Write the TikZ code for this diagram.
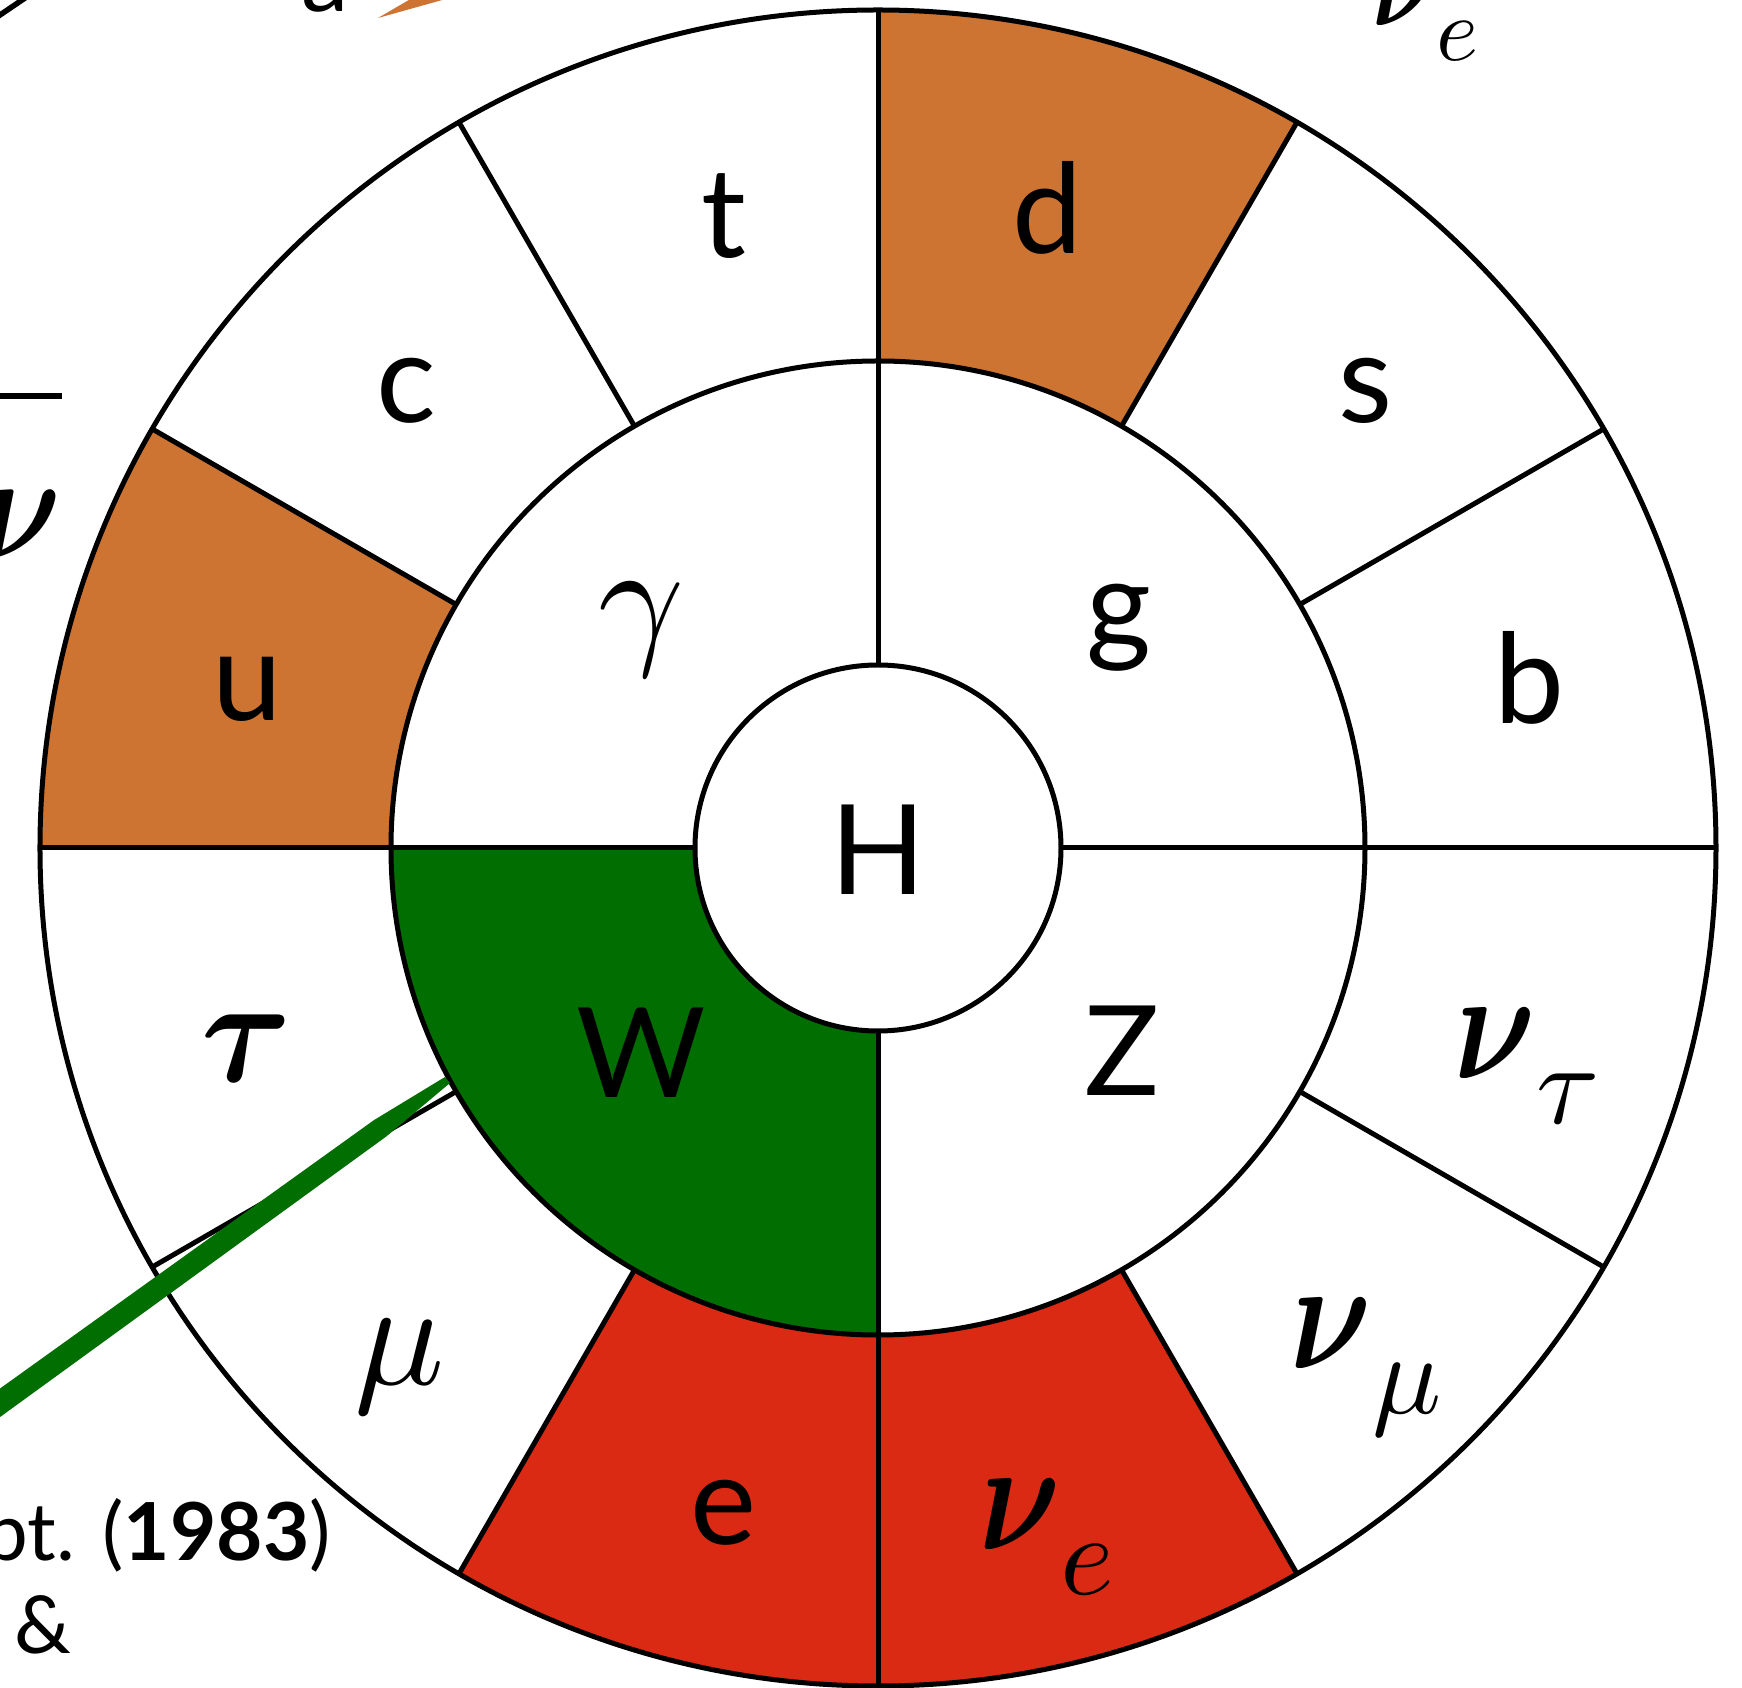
\documentclass[tikz,border=0pt]{standalone}
\usepackage{graphicx}
\usepackage{fontspec}
\setmainfont{Lato}
\DeclareFontShape{OML}{cmm}{m}{it}{<->cmmi10}{\skewchar\font'177}
\DeclareFontShape{OML}{cmm}{b}{it}{<->cmmib10}{\skewchar\font'60}
\DeclareSymbolFont{boldletters}{OML}{cmm}{b}{it}
\DeclareMathSymbol{\bnuchar}{\mathord}{boldletters}{"17}
\DeclareMathSymbol{\btauchar}{\mathord}{boldletters}{"1C}
\definecolor{ochre}{RGB}{205,116,51}
\definecolor{lepred}{RGB}{218,42,19}
\definecolor{bosgreen}{RGB}{0,110,0}
\newcommand{\gsz}{\fontsize{150}{180}\selectfont}
\newcommand{\ssz}{\fontsize{115}{120}\selectfont}
\newcommand{\nux}{\scalebox{0.84}[1.05]{$\bnuchar$}}
\begin{document}
\begin{tikzpicture}[x=1pt,y=1pt,
  ring/.style={line width=5pt},
  lab/.style={inner sep=0pt,font=\fontsize{125}{150}\selectfont},
  glab/.style={inner sep=0pt,font=\gsz},
  small/.style={inner sep=0pt,font=\fontsize{80}{96}\selectfont},
]
\useasboundingbox (-878,848) rectangle (864,-840);
\clip (-878,848) rectangle (864,-840);
\fill[white] (-878,848) rectangle (864,-840);
% coloured sectors
\fill[ochre] (60:487) -- (60:838) arc[start angle=60,end angle=90,radius=838] -- (90:487) arc[start angle=90,end angle=60,radius=487] -- cycle;
\fill[ochre] (150:487) -- (150:838) arc[start angle=150,end angle=180,radius=838] -- (180:487) arc[start angle=180,end angle=150,radius=487] -- cycle;
\fill[lepred] (240:487) -- (240:838) arc[start angle=240,end angle=300,radius=838] -- (300:487) arc[start angle=300,end angle=240,radius=487] -- cycle;
\fill[bosgreen] (180:183) -- (180:487) arc[start angle=180,end angle=270,radius=487] -- (270:183) arc[start angle=270,end angle=180,radius=183] -- cycle;
% rings
\draw[ring] (0,0) circle[radius=838];
\draw[ring] (0,0) circle[radius=487];
\draw[ring,fill=white] (0,0) circle[radius=183];
\foreach \a in {0,30,...,330} \draw[ring] (\a:487) -- (\a:838);
\foreach \a in {0,90,180,270} \draw[ring] (\a:183) -- (\a:487);
% outer labels
\node[lab] (t) at (-154,632) {t};
\node[lab] (d) at (169,640) {d};
\node[lab] (s) at (488,457) {s};
\node[lab] (b) at (651,170) {b};
\node[lab] (c) at (-472,457) {c};
\node[lab] (u) at (-631,159) {u};
\node[lab] (e) at (-154,-665) {e};
\node[glab] (tau) at (-631,-200) {\scalebox{0.92}[1]{$\btauchar$}};
\node[glab] (mu) at (-478,-519) {$\mu$};
\node[glab] (nutau) at (649,-218) {\nux\raisebox{-45pt}{\ssz$\tau$}};
\node[glab] (numu) at (488,-519) {\nux\raisebox{-45pt}{\ssz$\mu$}};
\node[glab] (nue) at (169,-689) {\nux\raisebox{-45pt}{\ssz$e$}};
% inner labels
\node[glab] (gamma) at (-237,218) {$\gamma$};
\node[lab] (g) at (241,220) {g};
\node[lab] (W) at (-237,-205) {W};
\node[lab] (Z) at (244,-203) {Z};
\node[lab] (H) at (0,-2) {H};
% cut-off pieces at the edges
\draw[line width=5.5pt] (-883,829.6) -- (-851,851.3);
\node[inner sep=0pt,font=\fontsize{95}{110}\selectfont,anchor=base east] (acut) at (-529,836) {a};
\fill[ochre] (-500,830) -- (-464,851) -- (-425,851) -- cycle;
\node[inner sep=0pt,font=\fontsize{118}{140}\selectfont,anchor=base west] (nuecut) at (494,822) {\nux\raisebox{-35pt}{\fontsize{90}{95}\selectfont$e$}};
\draw[line width=5.5pt] (-880,452) -- (-816,452);
\node[inner sep=0pt,font=\fontsize{145}{170}\selectfont] (nucut) at (-856,323) {\nux};
\fill[bosgreen] (-894.8,-552.6) -- (-504.0,-272.1) -- (-433,-229) -- (-428,-235) -- (-492.0,-288.7) -- (-881.2,-571.4) -- cycle;
\node[small,anchor=base east] (yr) at (-547,-712) {pt. (\textbf{1983})};
\node[small,anchor=base west] (amp) at (-864,-805) {\&};
\end{tikzpicture}
\end{document}
